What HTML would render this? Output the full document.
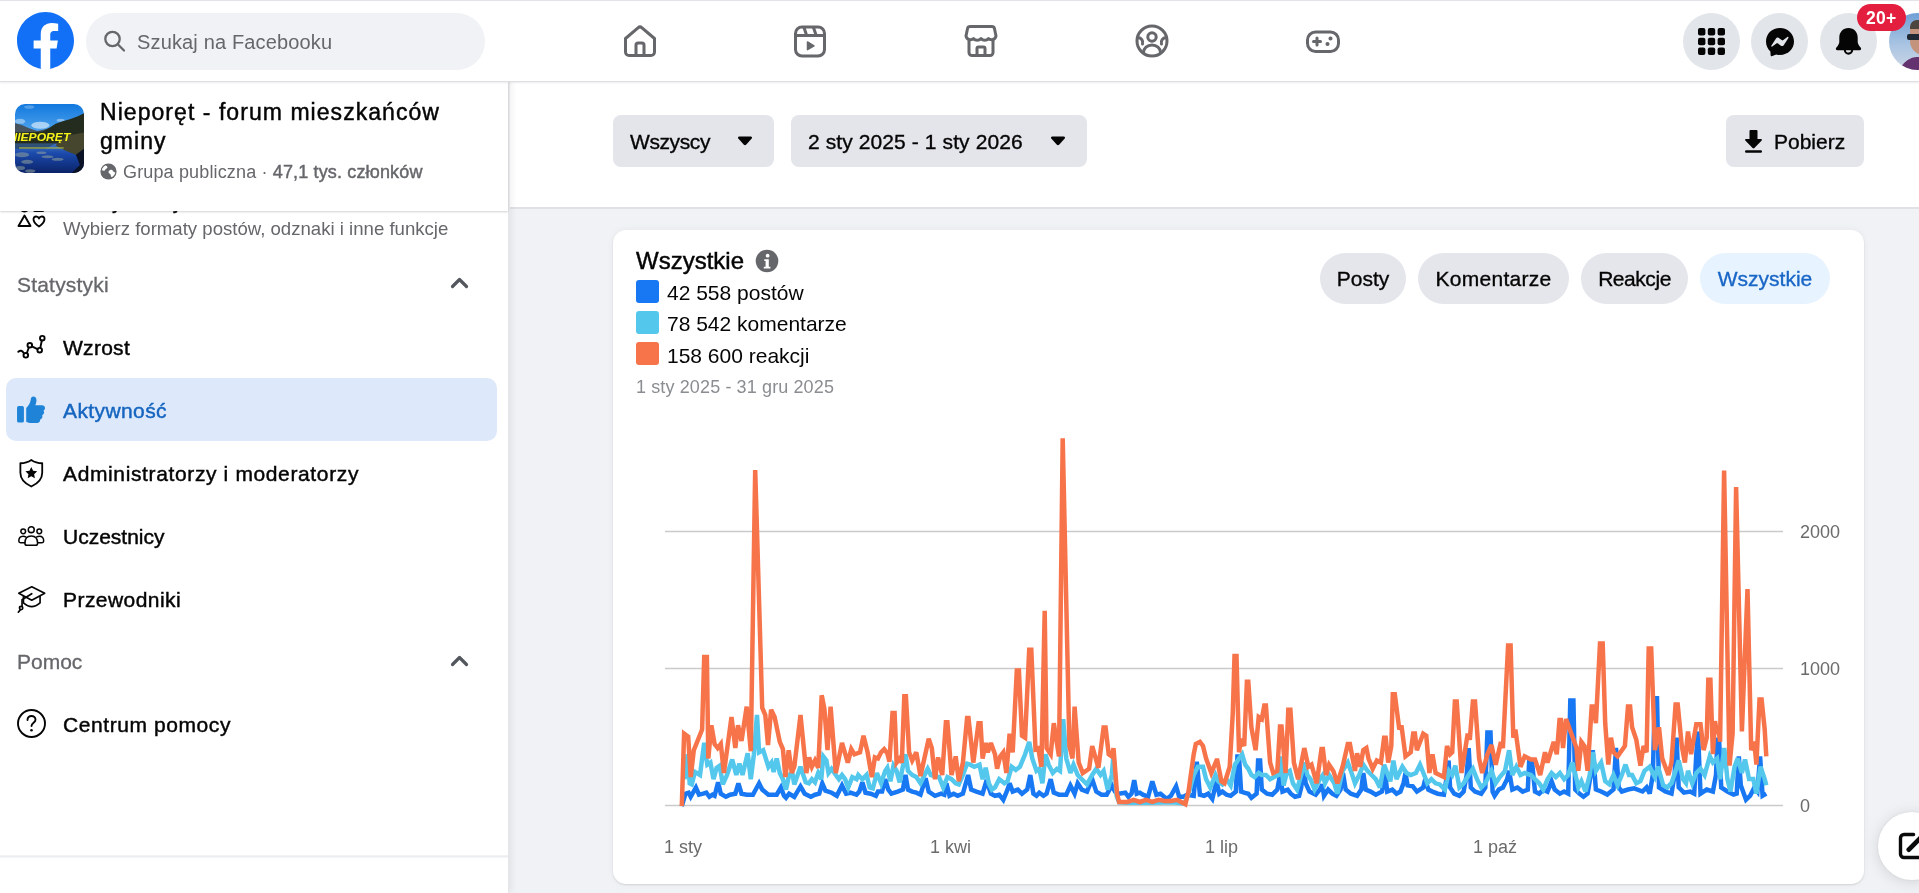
<!DOCTYPE html>
<html lang="pl"><head><meta charset="utf-8"><title>Nieporęt - forum mieszkańców gminy</title>
<style>
*{box-sizing:border-box;margin:0;padding:0}
html,body{width:1919px;height:893px;overflow:hidden;background:#f0f2f5;font-family:"Liberation Sans",sans-serif;color:#050505}
.abs{position:absolute}
#top{position:absolute;left:0;top:0;width:1919px;height:82px;background:#fff;border-top:2px solid #fff;border-bottom:1px solid #dddfe2;box-shadow:0 1px 2px rgba(0,0,0,.08);z-index:5}
#side{position:absolute;left:0;top:82px;width:509px;height:811px;background:#fff;border-right:1px solid #e4e6ea;box-shadow:2px 0 7px rgba(0,0,0,.07);z-index:3}
#filter{position:absolute;left:510px;top:82px;width:1409px;height:126px;background:#fff;border-bottom:2px solid #dfe1e5;z-index:2}
.btn{position:absolute;background:#e3e5ea;border-radius:8px;height:51.5px;font-size:21px;line-height:54px;color:#050505;white-space:nowrap;-webkit-text-stroke:.35px #050505}
.pill{position:absolute;top:253px;height:51px;border-radius:26px;background:#e4e6eb;font-size:21px;line-height:51px;text-align:center;white-space:nowrap;-webkit-text-stroke:.35px #050505}
.t{position:absolute;white-space:nowrap}
.sb{-webkit-text-stroke:.45px currentColor}
.nav{position:absolute;left:63px;font-size:21px;line-height:26px;color:#050505;-webkit-text-stroke:.45px #050505;white-space:nowrap}
.sec{position:absolute;left:17px;font-size:21px;line-height:26px;color:#65676b;-webkit-text-stroke:.3px #65676b;white-space:nowrap}
.ax{position:absolute;font-size:18px;line-height:20px;color:#6b6b6b;white-space:nowrap}
</style></head><body><div id="wrap" style="position:absolute;left:0;top:0;width:1919px;height:893px;overflow:hidden;will-change:transform">
<div id="top"><div class="abs" style="left:0;top:-2px;width:1919px;height:1px;background:#e3e4e8"></div>
 <svg class="abs" style="left:17.2px;top:10.2px" width="57" height="57" viewBox="0 0 36 36"><path fill="#1270f6" d="M15 35.8C6.5 34.3 0 26.9 0 18 0 8.1 8.1 0 18 0s18 8.1 18 18c0 8.9-6.5 16.3-15 17.8l-1-.8h-4l-1 .8z"/><path fill="#fff" d="M25 23l.8-5H21v-3.5c0-1.4.5-2.5 2.7-2.5H26V7.4c-1.3-.2-2.7-.4-4-.4-4.1 0-7 2.5-7 7v4h-4.5v5H15v12.7c1 .2 2 .3 3 .3s2-.1 3-.3V23h4z"/></svg>
 <div class="abs" style="left:86px;top:11px;width:399px;height:57px;border-radius:29px;background:#f0f2f5"></div>
 <svg class="abs" style="left:102px;top:26px" width="26" height="26" viewBox="0 0 26 26" fill="none" stroke="#65676b" stroke-width="2.3" stroke-linecap="round"><circle cx="10.5" cy="11" r="7.2"/><path d="M16 16.5L22 22.5"/></svg>
 <div class="t" style="left:137px;top:26.5px;font-size:20px;line-height:26px;letter-spacing:.15px;color:#65676b">Szukaj na Facebooku</div>
 <!-- nav icons -->
 <svg class="abs" style="left:622px;top:21px" width="36" height="36" viewBox="0 0 36 36" fill="none" stroke="#65676b" stroke-width="3" stroke-linejoin="round" stroke-linecap="round"><path d="M3.5 15.5 L16 4.8 a3 3 0 0 1 4 0 L32.5 15.5 V29 a3.5 3.5 0 0 1 -3.5 3.5 H7 a3.5 3.5 0 0 1 -3.5 -3.5 Z"/><path d="M14 32 V22 a2 2 0 0 1 2-2 h4 a2 2 0 0 1 2 2 V32"/></svg>
 <svg class="abs" style="left:792px;top:21px" width="36" height="36" viewBox="0 0 36 36" fill="none" stroke="#65676b" stroke-width="3" stroke-linejoin="round" stroke-linecap="round"><rect x="3.5" y="4" width="29" height="29" rx="6.5"/><path d="M3.5 12.5 H32.5 M12 4.5 L14.5 12 M21.5 4.5 L24 12"/><path d="M15.5 19 L22 22.8 L15.5 26.6 Z" fill="#65676b" stroke-width="1.5"/></svg>
 <svg class="abs" style="left:963px;top:21px" width="36" height="36" viewBox="0 0 36 36" fill="none" stroke="#65676b" stroke-width="3" stroke-linejoin="round" stroke-linecap="round"><path d="M7 3.5 H29 a2.5 2.5 0 0 1 2.4 1.8 L33 13 a4.5 4.5 0 0 1 -7.5 2.5 a5 5 0 0 1 -7.5 0 a5 5 0 0 1 -7.5 0 A4.5 4.5 0 0 1 3 13 L4.6 5.3 A2.5 2.5 0 0 1 7 3.5 Z"/><path d="M6 17 V29.5 a3 3 0 0 0 3 3 H27 a3 3 0 0 0 3 -3 V17"/><path d="M14 32 V25.5 a1.5 1.5 0 0 1 1.5 -1.5 h5 a1.5 1.5 0 0 1 1.5 1.5 V32"/></svg>
 <svg class="abs" style="left:1134px;top:21px" width="36" height="36" viewBox="0 0 36 36" fill="none" stroke="#65676b" stroke-width="3" stroke-linejoin="round" stroke-linecap="round"><circle cx="18" cy="18" r="15"/><circle cx="18" cy="14" r="4.2"/><path d="M9.5 29.5 a8.5 7.5 0 0 1 17 0"/><path d="M4 14.5 a5 5 0 0 1 4.5 6.5 M32 14.5 a5 5 0 0 0 -4.5 6.5"/></svg>
 <svg class="abs" style="left:1305px;top:21px" width="36" height="36" viewBox="0 0 36 36" fill="none" stroke="#65676b" stroke-width="3" stroke-linejoin="round" stroke-linecap="round"><rect x="2.5" y="9" width="31" height="19.5" rx="8"/><path d="M8.5 18.5 h7 M12 15 v7"/><circle cx="25.5" cy="15.5" r="1.3" fill="#65676b" stroke-width="1.5"/><circle cx="22.5" cy="21" r="1.3" fill="#65676b" stroke-width="1.5"/></svg>
 <!-- right circles -->
 <div class="abs" style="left:1683px;top:11px;width:57px;height:57px;border-radius:50%;background:#e2e5e9"></div>
 <svg class="abs" style="left:1697px;top:25px" width="29" height="29" viewBox="0 0 29 29" fill="#050505"><g><rect x="1" y="1" width="7.4" height="7.4" rx="2"/><rect x="10.8" y="1" width="7.4" height="7.4" rx="2"/><rect x="20.6" y="1" width="7.4" height="7.4" rx="2"/><rect x="1" y="10.8" width="7.4" height="7.4" rx="2"/><rect x="10.8" y="10.8" width="7.4" height="7.4" rx="2"/><rect x="20.6" y="10.8" width="7.4" height="7.4" rx="2"/><rect x="1" y="20.6" width="7.4" height="7.4" rx="2"/><rect x="10.8" y="20.6" width="7.4" height="7.4" rx="2"/><rect x="20.6" y="20.6" width="7.4" height="7.4" rx="2"/></g></svg>
 <div class="abs" style="left:1751px;top:11px;width:57px;height:57px;border-radius:50%;background:#e2e5e9"></div>
 <svg class="abs" style="left:1765px;top:25px" width="30" height="30" viewBox="0 0 30 30"><path fill="#050505" d="M15 1 C7 1 1 6.8 1 14.5 c0 4 1.7 7.5 4.4 9.9 l.2 3.6 c0 .9 1 1.5 1.8 1.1 l3.8-1.7 c1.2.4 2.5.5 3.8.5 8 0 14-5.8 14-13.4 S23 1 15 1z"/><path fill="#e2e5e9" d="M6.3 18.7 l4.7-7.3 c.6-1 1.9-1.2 2.8-.5 l3.2 2.4 c.3.2.7.2 1 0 l4.4-3.3 c.6-.5 1.4.3 1 .9 l-4.7 7.3 c-.6 1-1.9 1.2-2.8.5 l-3.2-2.4 c-.3-.2-.7-.2-1 0 l-4.4 3.3 c-.6.5-1.4-.3-1-.9z"/></svg>
 <div class="abs" style="left:1820px;top:11px;width:57px;height:57px;border-radius:50%;background:#e2e5e9"></div>
 <svg class="abs" style="left:1834px;top:25px" width="29" height="30" viewBox="0 0 29 30"><path fill="#050505" d="M14.5 1 C9 1 5.3 5.2 5.3 10.4 v4.2 c0 1.6-.6 3.1-1.6 4.3 l-1.5 1.8 c-.8 1 -.1 2.5 1.2 2.5 h22.2 c1.3 0 2-1.5 1.2-2.5 l-1.5-1.8 c-1-1.2-1.6-2.7-1.6-4.3 v-4.2 C23.7 5.2 20 1 14.5 1z"/><path fill="#050505" d="M9.8 23 h9.4 a4.7 4.7 0 0 1 -9.4 0z"/><path fill="#e2e5e9" d="M11.9 23.3 h5.2 a2.6 2.3 0 0 1 -5.2 0z"/></svg>
 <div class="abs" style="left:1889px;top:11px;width:57px;height:57px;border-radius:50%;overflow:hidden;background:linear-gradient(180deg,#6f9fd6 0%,#a9c4e2 55%,#cdd7e6 100%)">
   <div class="abs" style="left:21px;top:9px;width:22px;height:33px;border-radius:9px 0 0 14px;background:#c4937e"></div>
   <div class="abs" style="left:21px;top:7px;width:20px;height:9px;border-radius:7px 0 0 0;background:#4d4540"></div>
   <div class="abs" style="left:18px;top:21px;width:18px;height:6px;border-radius:2px;background:#1f2935"></div>
   <div class="abs" style="left:12px;top:44px;width:34px;height:20px;border-radius:10px 0 0 0;background:#63326f;transform:skewX(-28deg)"></div>
 </div>
 <div class="abs" style="left:1857px;top:2px;width:48.5px;height:27px;border-radius:14px;background:#e41e3f;color:#fff;font-size:17.5px;line-height:29px;text-align:center;font-weight:bold;letter-spacing:.3px">20+</div>
</div>

<div id="side" style="top:0;height:893px">
 <!-- scrolled content -->
 <div class="abs" style="left:0;top:211px;width:508px;height:682px;overflow:hidden">
  <div class="abs" style="left:0;top:-211px;width:508px;height:893px">
   <div class="nav" style="top:189px">Dodaj funkcje</div>
   <svg class="abs" style="left:17px;top:204px" width="30" height="26" viewBox="0 0 30 26" fill="none" stroke="#050505" stroke-width="1.9" stroke-linejoin="round"><circle cx="7.5" cy="3" r="4.5"/><rect x="17" y="-2" width="9.5" height="9" rx="1"/><path d="M7.5 11.5 L13.5 22 H1.5 Z"/><path d="M22 22.5 c-7-4.5-6.5-10-2.8-10 c1.5 0 2.4 1 2.8 2 c.4-1 1.3-2 2.8-2 c3.7 0 4.2 5.5-2.8 10z"/></svg>
   <div class="t" style="left:63px;top:217px;font-size:18.6px;line-height:24px;color:#65676b">Wybierz formaty postów, odznaki i inne funkcje</div>
   <div class="sec" style="top:272px;letter-spacing:.2px">Statystyki</div>
   <svg class="abs" style="left:449px;top:275px" width="21" height="16" viewBox="0 0 21 16" fill="none" stroke="#54585e" stroke-width="3.2" stroke-linecap="round" stroke-linejoin="round"><path d="M3.5 11.5 L10.5 4.5 L17.5 11.5"/></svg>
   <!-- Wzrost -->
   <svg class="abs" style="left:17px;top:333px" width="30" height="30" viewBox="0 0 30 30" fill="none" stroke="#050505" stroke-width="1.9" stroke-linecap="round"><path d="M1.3 18.8 c2-1.8 4-1.5 5.6 1.6 M9.9 20 L11.8 14.5 M14.9 13.3 L20.5 16.2 M23.3 14.9 L24.8 7.5"/><circle cx="8.8" cy="22.3" r="2.3"/><circle cx="12.8" cy="12.3" r="2.3"/><circle cx="22.7" cy="17.2" r="2.3"/><circle cx="25.3" cy="5.2" r="2.3"/></svg>
   <div class="nav" style="top:335px;letter-spacing:.28px">Wzrost</div>
   <!-- Aktywnosc -->
   <div class="abs" style="left:6px;top:378px;width:491px;height:63px;border-radius:10px;background:#dde9fa"></div>
   <svg class="abs" style="left:17px;top:395.5px" width="28.5" height="27.5" viewBox="0 0 31 30" fill="#1f84d8"><rect x="0" y="11" width="7.5" height="18" rx="1.8"/><path d="M10 13 c2.5-2 4.5-5.5 5-9.5 c.2-1.8 1.2-3 2.8-3 c2.2 0 3.4 1.8 3.4 4.2 c0 2-.5 3.7-1.2 5.3 h7.2 c2 0 3.4 1.5 3.3 3.3 c-.1 1.3-.8 2.2-1.7 2.7 c.6.7.8 1.5.7 2.4 c-.2 1.3-1 2.2-2.1 2.6 c.3.7.4 1.4.2 2.1 c-.3 1.3-1.3 2.2-2.5 2.4 c.1.5.1 1 0 1.5 c-.4 1.7-1.9 2.5-3.8 2.5 h-6.3 c-2 0-3.5-.4-5-1.3z"/></svg>
   <div class="nav" style="top:398px;letter-spacing:.4px;color:#1565c0;-webkit-text-stroke:.45px #1565c0">Aktywność</div>
   <!-- Admin -->
   <svg class="abs" style="left:17.3px;top:457.5px" width="28.6" height="30.4" viewBox="0 0 30 32" fill="none" stroke="#050505" stroke-width="1.9" stroke-linejoin="round"><path d="M15 2 c3.5 2.5 7.5 3.5 11.5 3.5 v10 c0 7-5 11.5-11.5 14.5 C8.5 27 3.5 22.5 3.5 15.5 v-10 C7.5 5.5 11.5 4.5 15 2z"/><path fill="#050505" stroke="none" d="M15 9.5 l1.9 4 4.3.5-3.2 3 .8 4.3-3.8-2.1-3.8 2.1.8-4.3-3.2-3 4.3-.5z"/></svg>
   <div class="nav" style="top:461px;letter-spacing:.63px">Administratorzy i moderatorzy</div>
   <!-- Uczestnicy -->
   <svg class="abs" style="left:17.2px;top:524.8px" width="28.5" height="22" viewBox="0 0 32 26" fill="none" stroke="#050505" stroke-width="1.8" stroke-linejoin="round" stroke-linecap="round"><circle cx="16" cy="5.5" r="3.5"/><circle cx="6.5" cy="7.5" r="2.8"/><circle cx="25.5" cy="7.5" r="2.8"/><path d="M8.5 21.5 c0-5 2.5-8.5 7.5-8.5 s7.5 3.5 7.5 8.5 c0 1.5-1 2.5-2.5 2.5 h-10 c-1.5 0-2.5-1-2.5-2.5z"/><path d="M9.5 14 c-1-.6-2-.8-3.2-.8 c-3.5 0-5 2.5-5 5.8 c0 1.3.8 2 2 2 h5"/><path d="M22.5 14 c1-.6 2-.8 3.2-.8 c3.5 0 5 2.5 5 5.8 c0 1.3-.8 2-2 2 h-5"/></svg>
   <div class="nav" style="top:524px">Uczestnicy</div>
   <!-- Przewodniki -->
   <svg class="abs" style="left:16.3px;top:583.8px" width="31.5" height="29.6" viewBox="0 0 34 32" fill="none" stroke="#050505" stroke-width="1.8" stroke-linejoin="round" stroke-linecap="round"><path d="M17 3 L31 10 L17 17.5 L3 10 Z"/><path d="M8 13.5 V20.5 c3 2.5 6 4 9 4 s6-1.5 9-4 V13.5"/><path d="M17 10.5 L6.5 17 V24"/><circle cx="5.5" cy="26" r="1.8"/><path d="M4.5 28 L2.5 30.5"/></svg>
   <div class="nav" style="top:587px;letter-spacing:.44px">Przewodniki</div>
   <div class="sec" style="top:649px">Pomoc</div>
   <svg class="abs" style="left:449px;top:653px" width="21" height="16" viewBox="0 0 21 16" fill="none" stroke="#54585e" stroke-width="3.2" stroke-linecap="round" stroke-linejoin="round"><path d="M3.5 11.5 L10.5 4.5 L17.5 11.5"/></svg>
   <!-- Centrum -->
   <svg class="abs" style="left:16px;top:708px" width="31" height="31" viewBox="0 0 31 31" fill="none" stroke="#050505" stroke-width="1.9" stroke-linecap="round"><circle cx="15.5" cy="15.5" r="13.5"/><path d="M11.5 12 c0-2.5 1.8-4 4-4 s4 1.5 4 3.7 c0 3-4 3-4 6.3"/><circle cx="15.5" cy="22.3" r="1.3" fill="#050505" stroke="none"/></svg>
   <div class="nav" style="top:712px;letter-spacing:.58px">Centrum pomocy</div>
   <div class="abs" style="left:0;top:855px;width:508px;height:3px;background:linear-gradient(180deg,#f4f5f7,#eceef1,#f6f7f9)"></div>
  </div>
 </div>
 <!-- sticky group header -->
 <div class="abs" style="left:0;top:82px;width:508px;height:129px;background:#fff;box-shadow:0 1px 2px rgba(0,0,0,.18)">
  <svg class="abs" style="left:14.5px;top:21.5px;border-radius:10px" width="69" height="69" viewBox="0 0 68 68" preserveAspectRatio="none">
   <defs><linearGradient id="gsky" x1="0" y1="0" x2="0" y2="1"><stop offset="0" stop-color="#1278de"/><stop offset="1" stop-color="#55a8ee"/></linearGradient>
   <linearGradient id="glake" x1="0" y1="0" x2="0" y2="1"><stop offset="0" stop-color="#3d74c4"/><stop offset=".35" stop-color="#1a48aa"/><stop offset="1" stop-color="#0b2368"/></linearGradient></defs>
   <rect width="68" height="30" fill="url(#gsky)"/>
   <ellipse cx="25" cy="21" rx="9" ry="3.5" fill="#fff" opacity=".55"/><ellipse cx="5" cy="17" rx="5" ry="2.5" fill="#fff" opacity=".4"/><ellipse cx="14" cy="3" rx="5" ry="1.8" fill="#fff" opacity=".25"/><ellipse cx="45" cy="16" rx="4" ry="1.5" fill="#fff" opacity=".4"/>
   <path d="M0 19 L6 20.5 L14 24 L22 26.5 L30 25 L36 23 L36 34 L0 34Z" fill="#46525c"/>
   <path d="M68 9 L62 12 L54 15 L47 17 L40 19.5 L34 23.5 L27 27 L20 27.5 L0 28 V41 H68Z" fill="#242b1f"/>
   <rect y="39" width="68" height="29" fill="url(#glake)"/><path d="M0 39 H40 L30 44 H0Z" fill="#2a3a3a" opacity=".55"/>
   <path d="M68 28 L52 31 L44 36 L40 41 L50 46 L60 50 L68 53Z" fill="#45462d"/>
   <path d="M68 44 L60 50 L64 60 L56 68 H68Z" fill="#0b1226"/>
   <g fill="#93a39c" opacity=".55"><ellipse cx="7" cy="50" rx="7" ry="2.5"/><ellipse cx="12" cy="57" rx="6" ry="2"/><ellipse cx="5" cy="63" rx="5" ry="2"/><ellipse cx="15" cy="66" rx="5" ry="1.8"/><ellipse cx="32" cy="52" rx="6" ry="1.5"/><ellipse cx="42" cy="54.5" rx="6" ry="1.5"/><ellipse cx="26" cy="48" rx="5" ry="1.2"/></g>
   <text x="-6.5" y="36.5" font-family="Liberation Sans, sans-serif" font-weight="bold" font-style="italic" font-size="10" fill="#f6f21a" textLength="61" lengthAdjust="spacingAndGlyphs">NIEPORĘT</text>
   <rect x="4" y="42.5" width="44" height="1.6" fill="#b9c23a" opacity=".65"/>
  </svg>
  <div class="t sb" style="left:100px;top:16px;font-size:23px;line-height:29px;letter-spacing:1.05px;color:#050505">Nieporęt - forum mieszkańców<br>gminy</div>
  <svg class="abs" style="left:100px;top:81px" width="17" height="17" viewBox="0 0 16 16"><circle cx="8" cy="8" r="7.6" fill="#65676b"/><path fill="#fff" d="M5.2 2.3 c1 .2 1.8.8 1.8 1.7 c0 1-.9 1.2-1.6 1.7 c-.7.5-.4 1.3-1.2 1.6 c-.8.3-1.6-.3-2.5-.4 c.3-2 1.6-3.8 3.5-4.6z M9.5 6.5 c1.2-.3 2.4.3 2.9 1.3 c.4.9 1.2 1 1.9.8 c-.2 2.2-1.6 4-3.5 4.8 c-.6-.8-.5-1.7-.9-2.5 c-.4-.8-1.5-1-1.8-1.9 c-.3-1 .4-2.2 1.4-2.5z"/></svg>
  <div class="t" style="left:123px;top:78px;letter-spacing:.15px;font-size:18px;line-height:24px;color:#65676b">Grupa publiczna · <span style="-webkit-text-stroke:.45px #65676b">47,1 tys. członków</span></div>
 </div>
</div>

<div id="filter" style="top:0;height:209px"></div>
<div style="position:absolute;left:0;top:0;width:1919px;height:893px;z-index:2">
 <div class="btn" style="left:613px;top:115px;width:161px;padding-left:17px;letter-spacing:-.4px">Wszyscy</div>
 <svg class="abs" style="left:737px;top:136px" width="16" height="10" viewBox="0 0 16 10"><path fill="#050505" d="M2.2 .5 h11.6 c1.1 0 1.6 1.2.9 2 l-5.6 6.2 c-.6.6-1.6.6-2.2 0 L1.3 2.5 c-.7-.8-.2-2 .9-2z"/></svg>
 <div class="btn" style="left:791px;top:115px;width:296px;padding-left:17px;letter-spacing:.1px">2 sty 2025 - 1 sty 2026</div>
 <svg class="abs" style="left:1050px;top:136px" width="16" height="10" viewBox="0 0 16 10"><path fill="#050505" d="M2.2 .5 h11.6 c1.1 0 1.6 1.2.9 2 l-5.6 6.2 c-.6.6-1.6.6-2.2 0 L1.3 2.5 c-.7-.8-.2-2 .9-2z"/></svg>
 <div class="btn" style="left:1726px;top:115px;width:138px;padding-left:48px">Pobierz</div>
 <svg class="abs" style="left:1744px;top:130px" width="19" height="23" viewBox="0 0 19 23"><path fill="#050505" d="M6.5 0 h6 a1 1 0 0 1 1 1 v8 h3.5 c.9 0 1.3 1 .7 1.6 l-7.3 7.4 c-.5.5-1.3.5-1.8 0 L1.3 10.6 C.7 10 1.1 9 2 9 h3.5 V1 a1 1 0 0 1 1-1z"/><rect x="1" y="20.3" width="17" height="2.4" rx="1.2" fill="#050505"/></svg>
 <!-- card -->
 <div class="abs" style="left:613px;top:230px;width:1250.5px;height:654px;border-radius:13px;background:#fff;box-shadow:0 1px 2px rgba(0,0,0,.12),0 0 7px rgba(0,0,0,.05)"></div>
 <div class="t sb" style="left:636px;top:246px;font-size:24px;line-height:30px">Wszystkie</div>
 <svg class="abs" style="left:755px;top:249px" width="24" height="24" viewBox="0 0 24 24"><circle cx="12" cy="12" r="11.3" fill="#65676b"/><circle cx="12.6" cy="6.7" r="1.9" fill="#fff"/><path fill="#fff" d="M9.3 10.3 h4.5 v7.5 h1.6 v1.7 H8.8 v-1.7 h1.8 v-5.8 H9.3z"/></svg>
 <div class="abs" style="left:636px;top:279.5px;width:23px;height:23px;border-radius:3px;background:#1877f2"></div>
 <div class="t" style="left:667px;top:280px;font-size:21px;line-height:26px">42 558 postów</div>
 <div class="abs" style="left:636px;top:311px;width:23px;height:23px;border-radius:3px;background:#54c7ec"></div>
 <div class="t" style="left:667px;top:311px;font-size:21px;line-height:26px">78 542 komentarze</div>
 <div class="abs" style="left:636px;top:342px;width:23px;height:23px;border-radius:3px;background:#f7734a"></div>
 <div class="t" style="left:667px;top:343px;font-size:21px;line-height:26px">158 600 reakcji</div>
 <div class="t" style="left:636px;top:375px;font-size:18px;line-height:24px;letter-spacing:.12px;color:#8a8d91">1 sty 2025 - 31 gru 2025</div>
 <div class="pill" style="left:1320px;width:86px">Posty</div>
 <div class="pill" style="left:1418px;width:151px;letter-spacing:.28px">Komentarze</div>
 <div class="pill" style="left:1581px;width:107px;letter-spacing:-.45px">Reakcje</div>
 <div class="pill" style="left:1700px;width:130px;background:#e7f3ff;color:#1866c6;-webkit-text-stroke:.35px #1866c6">Wszystkie</div>
 <!-- chart -->
 <svg class="abs" style="left:0;top:0" width="1919" height="893" viewBox="0 0 1919 893" fill="none">
  <g stroke="#cacaca" stroke-width="1.5"><path d="M665 531.5H1783M665 668.5H1783M665 805.5H1783"/></g>
  <path d="M681.8 806.1 L685.5 793.7 L688.6 792.7 L690.7 796.8 L695.9 787.5 L699 794.7 L703.2 793.7 L706.3 792.7 L709.4 796.8 L712.5 794.7 L714.6 795.8 L718.1 782.3 L720.8 793.7 L725.9 796.8 L730.1 794.7 L735.3 793.7 L738.4 783.3 L741.5 793.7 L746.7 794.7 L752.9 794.7 L759.1 783.3 L762.2 789.6 L768.4 794.7 L776.7 794.7 L780.9 787.5 L784 795.8 L786 797.8 L789.1 793.7 L794.3 796.8 L800.5 786.4 L804.7 793.7 L810.9 796.8 L815 794.7 L819.2 793.7 L822.3 783.3 L825.4 790.6 L831.6 792.7 L836.8 795.8 L842 785.4 L846.1 793.7 L850.3 792.7 L856.5 794.7 L859.3 791.6 L862.4 782.3 L865.5 792.7 L870.7 793.7 L875.9 795.8 L878 791.6 L882.1 791.6 L885.2 779.2 L888.3 789.6 L891.4 793.7 L897.7 791.6 L902.8 789.6 L905.5 775 L908 789.6 L912.2 791.6 L916.3 792.7 L920.5 794.7 L925.6 778.2 L928.7 791.6 L935 795.8 L941.2 793.7 L944.3 794.7 L946.4 783.3 L949.5 795.8 L953.6 793.7 L957.7 795.8 L962.9 793.7 L968.1 775 L971.2 789.6 L976.4 791.6 L982.6 793.7 L985.7 783.3 L988.8 787.5 L990.9 793.7 L995 795.8 L999.2 794.7 L1003.3 799.9 L1007.5 789.6 L1009.6 783.3 L1012.7 791.6 L1017.8 789.6 L1022 793.7 L1027.2 789.6 L1030.3 775 L1033.4 793.7 L1036.5 795.8 L1039.3 792.7 L1043.5 795.8 L1046.6 793.7 L1050.7 779.2 L1053.8 792.7 L1059 794.7 L1066.3 794.7 L1070.4 785.4 L1074.6 793.7 L1077.7 783.3 L1081.8 789.6 L1087 791.6 L1092.2 779.2 L1096.3 791.6 L1101.5 794.7 L1106.7 794.7 L1111.8 785.4 L1115 791.6 L1119.1 793.7 L1125.3 792.7 L1128.4 796.8 L1131.5 793.7 L1134.2 780.2 L1136.7 793.7 L1139.8 792.7 L1142.9 794.7 L1148.1 796.8 L1152.3 781.3 L1156.4 794.7 L1160.5 793.7 L1166.8 798.9 L1170.9 795.8 L1176.1 786.4 L1179.2 796.8 L1183.3 796.8 L1187.5 794.7 L1193.7 795.8 L1196.8 761.6 L1199.9 794.7 L1204.1 795.8 L1208.2 793.7 L1212.3 798.9 L1216.5 781.3 L1219.3 793.7 L1222.4 791.6 L1226.6 794.7 L1230.7 795.8 L1235.9 791.6 L1237.4 756.4 L1239 756.4 L1241.1 791.6 L1244.2 792.7 L1248.3 793.7 L1251.4 797.8 L1256.6 793.7 L1258.1 760.5 L1260.1 760.5 L1261.8 789.6 L1267 793.7 L1272.2 794.7 L1277.3 789.6 L1280 775 L1282.5 791.6 L1287.7 789.6 L1290.8 793.7 L1295 796.8 L1299.1 795.8 L1301.2 787.5 L1303.7 766.8 L1305.7 783.3 L1309.5 791.6 L1315.7 794.7 L1319.8 789.6 L1322.3 784.4 L1324 795.8 L1328.1 789.6 L1332.3 793.7 L1336.4 795.8 L1340.5 789.6 L1343 773 L1345.7 789.6 L1350.9 793.7 L1357.1 795.8 L1361.3 789.6 L1363.3 773 L1365.8 789.6 L1370.6 791.6 L1375.8 794.7 L1382 791.6 L1385.1 773 L1387.2 791.6 L1392.3 789.6 L1396.5 793.7 L1400.4 791.6 L1403.5 783.3 L1405.5 773 L1407.6 785.4 L1412.8 786.4 L1416.9 791.6 L1423.2 787.5 L1425.2 779.2 L1428.3 789.6 L1432.5 791.6 L1437.7 793.7 L1443.9 794.7 L1447 775 L1448.6 760.5 L1450.1 787.5 L1454.2 793.7 L1459.4 795.8 L1463.6 791.6 L1466.7 775 L1468.7 748.1 L1470.8 787.5 L1475 791.6 L1481.2 793.7 L1485.3 787.5 L1487.4 732.6 L1490.5 732.6 L1492.6 791.6 L1494.6 795.8 L1498.8 789.6 L1502.9 787.5 L1507.1 779.2 L1509.1 770.9 L1512.3 789.6 L1517.4 787.5 L1522.6 791.6 L1527.8 789.6 L1529.2 760.5 L1531.9 760.5 L1535 791.6 L1539.2 793.7 L1543.3 789.6 L1547.5 791.6 L1551.6 781.3 L1554.7 789.6 L1559.9 793.7 L1564.1 791.6 L1568.2 793.7 L1570.3 700.5 L1573.4 700.5 L1575.2 789.5 L1579.3 793.6 L1583.5 796.7 L1587.6 793.6 L1590.7 775 L1592.8 750.1 L1595.9 789.5 L1601.1 791.5 L1607.3 794.6 L1613.5 789.5 L1616 748 L1618.7 787.4 L1621.8 791.5 L1628 789.5 L1634.2 788.4 L1642.5 791.5 L1646.6 787.4 L1649.7 793.6 L1652.8 775 L1654.9 698.3 L1657 698.3 L1659 787.4 L1665.3 791.5 L1671.5 793.6 L1674.6 775 L1676.6 737.7 L1678.7 787.4 L1683.9 792.6 L1690.1 791.5 L1694.2 793.6 L1696.3 754.2 L1698 731.5 L1700.5 793.6 L1706.7 789.5 L1712.9 791.5 L1716 775 L1717.4 739.8 L1719.1 739.8 L1721.2 787.4 L1727.4 791.5 L1733.6 794.6 L1736.7 793.6 L1738.8 756.3 L1740.8 785.3 L1746 799.8 L1750.2 795.7 L1754.3 787.4 L1757.4 791.5 L1760.1 756.3 L1762.6 795.7 L1766.3 793.6" stroke="#1877f2" stroke-width="4.5" stroke-linejoin="miter" stroke-miterlimit="3"/>
  <path d="M684.5 779.2 L687.6 754.3 L689.7 783.3 L691.8 784.4 L694.9 771.9 L700 775 L704.2 742.9 L707.3 764.7 L710.4 762.6 L713.5 779.2 L716.6 767.8 L719.7 765.7 L722.8 784.4 L727 775 L732.2 759.5 L736.3 775 L739.4 763.7 L742.5 775 L747.7 753.3 L750.8 779.2 L753.9 754.3 L757 715 L759.1 752.3 L763.2 750.2 L768.4 766.8 L771.5 762.6 L773.6 771.9 L776.7 758.5 L779.8 773 L782.9 779.2 L786 789.6 L789.1 775 L792.3 773 L794.3 784.4 L800.5 766.8 L805.7 782.3 L808.8 783.3 L811.9 779.2 L815 782.3 L818.2 773 L821.3 779.2 L823.3 756.4 L826.4 760.5 L828.5 773 L831.6 768.8 L835.8 775 L838.9 779.2 L842 775 L845.1 779.2 L848.2 787.5 L852.3 777.1 L856.5 779.2 L858.3 775 L862.4 779.2 L866.6 775 L869.7 787.5 L872.8 788.5 L876.9 773 L881.1 783.3 L885.2 770.9 L887.3 767.8 L890.4 781.3 L893.5 765.7 L896.6 770.9 L899.7 782.3 L902.8 766.8 L905.5 754.3 L908 770.9 L912.2 775 L916.3 777.1 L920.5 783.3 L924.6 775 L927.7 768.8 L930.8 775 L935 776.1 L939.1 777.1 L943.2 787.5 L947.4 777.1 L951.5 779.2 L955.7 783.3 L958.8 784.4 L962.9 775 L967.1 763.7 L970.2 764.7 L974.3 766.8 L979.5 764.7 L982.6 779.2 L985.7 767.8 L988.8 783.3 L991.9 789.6 L995 787.5 L999.2 779.2 L1004.4 783.3 L1007.5 781.3 L1011.6 766.8 L1015.8 769.9 L1019.9 766.8 L1025.1 754.3 L1029.2 741.9 L1032.3 758.5 L1036.5 770.9 L1039.3 768.8 L1042.4 783.3 L1045.5 754.3 L1048.6 764.7 L1052.8 773 L1056.9 768.8 L1060 770.9 L1063.2 719.1 L1066.3 758.5 L1070.4 773 L1073.5 764.7 L1077.7 775 L1081.8 779.2 L1087 784.4 L1092.2 775 L1096.3 768.8 L1100.5 775 L1103.6 770.9 L1107.7 789.6 L1111.8 775 L1113.5 754.3 L1116.6 795.8 L1119.1 802.4 L1127.4 802.8 L1137.7 802.4 L1150.2 802.8 L1162.6 802.4 L1175 802.4 L1184.4 803.6 L1188.5 793.7 L1193.7 775 L1197.8 766.8 L1203 766.8 L1206.1 779.2 L1210.3 787.5 L1215.5 775 L1218.3 781.3 L1222.4 784.4 L1226.6 779.2 L1230.7 785.4 L1234.9 764.7 L1239 758.5 L1242.1 754.3 L1245.2 764.7 L1248.3 768.8 L1251.4 775 L1254.6 777.1 L1258.7 773 L1261.8 775 L1265.9 775 L1270.1 779.2 L1274.2 777.1 L1278.4 775 L1280.5 756.4 L1283.6 785.4 L1286.7 773 L1289.8 770.9 L1292.9 783.3 L1297 789.6 L1301.2 775 L1304.3 762.6 L1307.4 775 L1310.5 779.2 L1314.6 789.6 L1319.8 779.2 L1322.9 775 L1325 783.3 L1329.1 775 L1334.3 783.3 L1337.4 793.7 L1342.6 770.9 L1347.8 762.6 L1350.9 770.9 L1355 783.3 L1359.2 775 L1363.3 764.7 L1367.5 770.9 L1371.6 775 L1375.8 779.2 L1379.9 787.5 L1384.1 764.7 L1387.2 773 L1390.3 781.3 L1393.4 760.5 L1396.5 779.2 L1398.3 775 L1402.4 766.8 L1406.6 773 L1410.7 775 L1415.9 773 L1420 764.7 L1424.2 775 L1427.3 783.3 L1431.4 779.2 L1435.6 783.3 L1439.7 784.4 L1444.9 789.6 L1449.1 770.9 L1452.2 775 L1455.3 765.7 L1459.4 787.5 L1463.6 783.3 L1468.7 775 L1472.9 768.8 L1477 779.2 L1481.2 787.5 L1485.3 783.3 L1491.5 770.9 L1495.7 783.3 L1499.8 777.1 L1505 770.9 L1509.1 750.2 L1512.3 775 L1516.4 766.8 L1520.5 775 L1524.7 773 L1530.9 775 L1535 779.2 L1539.2 783.3 L1543.3 789.6 L1547.5 779.2 L1551.6 773 L1555.8 777.1 L1559.9 773 L1564.1 779.2 L1568.2 775 L1572.3 762.6 L1576.5 779.2 L1578.3 787.4 L1581.4 781.2 L1585.5 791.5 L1589.7 775 L1592.8 752.2 L1595.9 770.8 L1601.1 762.5 L1605.2 781.2 L1609.3 784.3 L1613.5 775 L1617.6 785.3 L1621.8 775 L1625.5 764.6 L1629 775 L1632.1 775 L1636.3 783.2 L1640.4 781.2 L1644.5 770.8 L1649.7 766.7 L1654.9 777 L1658 766.7 L1663.2 785.3 L1667.3 787.4 L1671.5 783.2 L1675.6 770.8 L1678.7 760.5 L1682.9 779.1 L1686 783.2 L1688 770.8 L1692.2 783.2 L1696.3 772.9 L1700.5 768.7 L1704.6 775 L1709.8 756.3 L1712.9 762.5 L1717 758.4 L1720.1 779.1 L1724.3 748 L1727.4 779.1 L1730.5 791.5 L1734.6 766.7 L1737.7 758.4 L1741.9 772.9 L1745 759.4 L1749.1 779.1 L1753.3 779.1 L1756.4 793.6 L1760.5 766.7 L1764.7 779.1 L1766.3 785.3" stroke="#54c7ec" stroke-width="4.5" stroke-linejoin="miter" stroke-miterlimit="3"/>
  <path d="M681.8 806.1 L684.1 733.6 L688.2 736.7 L690.7 777.1 L693.8 750.2 L702.1 729.5 L704.2 656.9 L706.9 656.9 L708.3 758.5 L711.4 725.3 L714.6 744 L717.7 748.1 L720.8 744 L723.9 773 L731.5 717 L735.3 748.1 L738 725.3 L741.5 740.9 L746.7 706.7 L750.8 751.2 L755.2 470 L762.2 707.7 L765.3 715 L768 745 L771.1 709.8 L774.6 717 L779.8 741.9 L782.9 749.1 L785.4 777.1 L788.7 750.2 L791.8 773 L794.3 766.8 L800.5 715 L806.3 773 L809.2 757.4 L811.9 766.8 L815 760.5 L818.2 767.8 L821.7 695.3 L824.4 708.7 L827.5 750.2 L830.6 706.7 L835.8 773 L842 742.9 L847.8 762.6 L851.3 749.1 L854.4 754.3 L860 752.3 L863.5 735.7 L867.6 752.3 L871.8 777.1 L874.9 757.4 L878 758.5 L881.1 752.3 L884.2 749.1 L887.3 753.3 L889.4 761.6 L892.5 712.9 L894.6 712.9 L896.6 762.6 L899.7 758.5 L901.8 762.6 L904.3 696.3 L905.9 696.3 L909.1 752.3 L912.2 760.5 L916.3 752.3 L920.5 776.1 L928.7 738.8 L931.8 748.1 L935 779.2 L938.1 757.4 L942.2 775 L945.9 722.2 L947.4 722.2 L951.5 775 L955.7 756.4 L958.8 781.3 L962.9 762.6 L967.1 718.1 L968.5 718.1 L973.3 762.6 L978.5 723.2 L980.5 723.2 L982.6 758.5 L985.7 742.9 L987.8 752.3 L990.9 742.9 L995 754.3 L997.1 768.8 L1000.2 756.4 L1003.3 752.3 L1006.4 773 L1009.6 733.6 L1012.7 752.3 L1016.8 670.4 L1018.9 670.4 L1022 735.7 L1025.1 737.7 L1029.2 649.7 L1031.3 649.7 L1035.5 749.1 L1037.5 748.1 L1038.3 748.1 L1041.4 766.8 L1044.7 610.9 L1046.6 748.1 L1050.7 754.3 L1053.8 723.2 L1059 756.4 L1062.7 438.3 L1069.4 746 L1072.5 758.5 L1074.6 706.7 L1078.7 762.6 L1082.8 773 L1089.1 768.8 L1092.2 746 L1098.4 767.8 L1103.6 727.4 L1105.6 727.4 L1108.7 754.3 L1111.8 756.4 L1113.5 748.1 L1117 793.7 L1119.1 802 L1127.4 802 L1133.6 799.9 L1139.8 802 L1146 799.9 L1152.3 802 L1158.5 799.9 L1164.7 800.9 L1170.9 800.9 L1177.1 799.9 L1185.4 804.1 L1188.5 791.6 L1193.7 754.3 L1195.8 744 L1199.9 741.9 L1203 746 L1206.1 758.5 L1211.3 773 L1216.5 760.5 L1217.3 760.5 L1221.4 781.3 L1224.5 783.3 L1229.7 766.8 L1232.8 712.9 L1234.5 655.9 L1236.5 655.9 L1239 752.3 L1241.1 738.8 L1244.2 746 L1246.9 681.8 L1248.3 681.8 L1251.4 727.4 L1255.6 750.2 L1258.7 717 L1261.8 719.1 L1264.3 705.6 L1265.9 705.6 L1270.1 762.6 L1273.2 773 L1277.3 770.9 L1280 726.4 L1281.5 726.4 L1285.6 773 L1288.3 709.8 L1290.4 709.8 L1293.9 762.6 L1298.1 779.2 L1304.3 748.1 L1308.4 766.8 L1311.5 764.7 L1316.7 783.3 L1321.5 749.1 L1322.9 749.1 L1326 775 L1329.1 764.7 L1333.3 770.9 L1337.4 783.3 L1342.6 766.8 L1347.8 744 L1349.9 744 L1355 770.9 L1357.1 753.3 L1360.2 766.8 L1363.3 750.2 L1366.4 748.1 L1368.5 758.5 L1372.7 768.8 L1376.8 760.5 L1380.9 762.6 L1384.1 737.7 L1385.7 737.7 L1388.2 762.6 L1391.3 746 L1392.8 694.2 L1394.8 694.2 L1399.3 729.5 L1401.4 725.3 L1405.5 756.4 L1410.7 752.3 L1413.2 733.6 L1414.9 733.6 L1416.9 750.2 L1423.2 733.6 L1426.3 735.7 L1429.4 773 L1432.5 754.3 L1435.6 773 L1439.7 775 L1443.9 777.1 L1447 746 L1450.1 754.3 L1452.2 752.3 L1454.9 701.5 L1456.7 701.5 L1461.5 773 L1467.7 733.6 L1469.8 739.8 L1472.9 701.5 L1475 701.5 L1479.1 758.5 L1482.2 773 L1487.4 754.3 L1491.5 745 L1495.7 764.7 L1500.9 741.9 L1502.9 748.1 L1508.1 645.5 L1510.6 645.5 L1513.3 737.7 L1515.4 729.5 L1520.5 766.8 L1524.7 756.4 L1530.9 759.5 L1535 759.5 L1540.2 775 L1545 752.3 L1547.5 762.6 L1553.7 741.9 L1556.8 754.3 L1559.5 720.1 L1560.9 720.1 L1563 748.1 L1566.1 719.1 L1571.3 733.6 L1576.5 748.1 L1578.3 770.8 L1581.4 741.8 L1584.5 746 L1587.6 770.8 L1591.7 706.6 L1593.8 706.6 L1595.9 723.2 L1600 643.5 L1602.7 643.5 L1605.2 723.2 L1608.3 764.6 L1611 737.7 L1613.5 752.2 L1617.6 756.3 L1624.9 746 L1628 706.6 L1630.1 706.6 L1632.1 727.3 L1636.3 739.8 L1640.4 765.6 L1643.5 746 L1646.6 752.2 L1648.7 648.6 L1651.2 648.6 L1654.9 750.1 L1659 727.3 L1662.2 758.4 L1668.4 775 L1671.5 762.5 L1675.6 704.5 L1677.7 704.5 L1681.8 746 L1684.9 762.5 L1688 731.5 L1691.1 754.2 L1696.3 724.2 L1700.5 724.2 L1703.6 750.1 L1706.7 737.7 L1708.3 679.7 L1710.4 679.7 L1712.9 754.2 L1715 721.1 L1717 733.5 L1718.1 727.3 L1720.1 741.8 L1724.1 470.5 L1729.5 765.6 L1732.6 733.5 L1736.1 487.1 L1741.9 731.5 L1747.5 589 L1751.2 750.1 L1754.3 741.8 L1756.4 764.6 L1759.5 699.4 L1761.6 699.4 L1764.7 729.4 L1766.3 756.3" stroke="#f7734a" stroke-width="4.5" stroke-linejoin="miter" stroke-miterlimit="3"/>
 </svg>
 <div class="ax" style="left:1800px;top:522px">2000</div>
 <div class="ax" style="left:1800px;top:659px">1000</div>
 <div class="ax" style="left:1800px;top:796px">0</div>
 <div class="ax" style="left:664px;top:837px">1 sty</div>
 <div class="ax" style="left:930px;top:837px">1 kwi</div>
 <div class="ax" style="left:1205px;top:837px">1 lip</div>
 <div class="ax" style="left:1473px;top:837px">1 paź</div>
 <!-- floating compose -->
 <div class="abs" style="left:1878px;top:812px;width:68px;height:68px;border-radius:50%;background:#fff;box-shadow:0 2px 16px rgba(0,0,0,.13),0 0 3px rgba(0,0,0,.08)"></div>
 <svg class="abs" style="left:1898px;top:830.3px" width="28" height="32" viewBox="0 0 28 32" fill="none" stroke="#0a0a0a" stroke-width="3.4" stroke-linejoin="round" stroke-linecap="round"><path d="M15.6 4.5 H6 a3.5 3.5 0 0 0 -3.5 3.5 V24 a3.5 3.5 0 0 0 3.5 3.5 H26"/><path d="M10.8 19.6 L25 5.4" stroke-width="4.8"/></svg>
</div>

</div></body></html>
